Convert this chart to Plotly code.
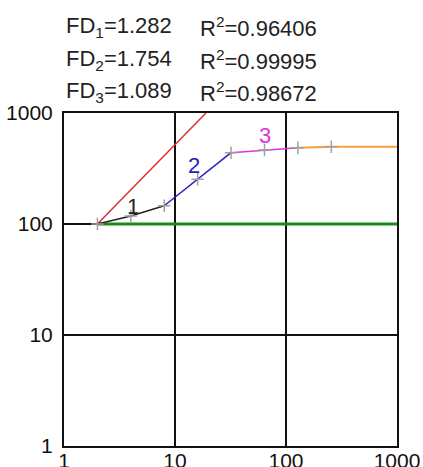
import math
import plotly.graph_objects as go

# Box sizes and counts for the three scaling regimes
box_size = [2, 4, 8, 16, 32, 64, 128, 256]
count = [100, 118, 146, 253, 439, 464, 487, 497]

# Saturated tail and reference lines
tail_x = [128, 256, 1000]
tail_y = [487, 497, 497]
ref_flat_x = [2, 1000]
ref_flat_y = [100, 100]
ref_slope_x = [2, 19]
ref_slope_y = [100, 1000]

fd_labels = ["FD<sub>1</sub>=1.282", "FD<sub>2</sub>=1.754", "FD<sub>3</sub>=1.089"]
r2_labels = ["R<sup>2</sup>=0.96406", "R<sup>2</sup>=0.99995", "R<sup>2</sup>=0.98672"]
tick_vals = [1, 10, 100, 1000]
tick_text = ["1", "10", "100", "1000"]

# Segment numbers and where they sit
seg_names = ["1", "2", "3"]
seg_label_x = [4.2, 14.8, 65]
seg_label_y = [145, 334, 632]
seg_colors = ["#222222", "#2222bb", "#dd33dd"]

FONT = "Arial, Liberation Sans, sans-serif"

fig = go.Figure()
fig.add_trace(go.Scatter(x=ref_flat_x, y=ref_flat_y, mode="lines",
                         line=dict(color="#1a8a1a", width=3)))
fig.add_trace(go.Scatter(x=ref_slope_x, y=ref_slope_y, mode="lines",
                         line=dict(color="#e03030", width=1.5)))
segments = [(0, 3), (2, 5), (4, 7)]
for (a, b), c in zip(segments, seg_colors):
    fig.add_trace(go.Scatter(x=box_size[a:b], y=count[a:b], mode="lines",
                             line=dict(color=c, width=1.5)))
fig.add_trace(go.Scatter(x=tail_x, y=tail_y, mode="lines",
                         line=dict(color="#f5a040", width=2)))
fig.add_trace(go.Scatter(x=box_size, y=count, mode="markers",
                         marker=dict(symbol="cross-thin", size=9,
                                     line=dict(color="#a0a0a0", width=1.5))))

for txt, x, y, c in zip(seg_names, seg_label_x, seg_label_y, seg_colors):
    fig.add_annotation(x=math.log10(x), y=math.log10(y), xref="x", yref="y",
                       text=txt, showarrow=False,
                       font=dict(size=22, color=c, family=FONT),
                       xanchor="center", yanchor="middle")

# Fit statistics above the plot
for i, (fd, r2) in enumerate(zip(fd_labels, r2_labels)):
    yy = 1.258 - i * 0.098
    fig.add_annotation(x=0, y=yy, xref="paper", yref="paper", text=fd,
                       showarrow=False, xanchor="left", yanchor="middle",
                       font=dict(size=22, color="#222222", family=FONT))
    fig.add_annotation(x=0.402, y=yy, xref="paper", yref="paper", text=r2,
                       showarrow=False, xanchor="left", yanchor="middle",
                       font=dict(size=22, color="#222222", family=FONT))

axis_common = dict(type="log", range=[0, 3], tickvals=tick_vals, ticktext=tick_text,
                   showgrid=True, gridcolor="#111111", gridwidth=1.5,
                   showline=True, linecolor="#111111", linewidth=2, mirror=True,
                   ticks="", zeroline=False, automargin=False,
                   tickfont=dict(size=21, color="#111111", family=FONT))
fig.update_xaxes(**axis_common, ticklabelstandoff=-5)
fig.update_yaxes(**axis_common, ticklabelstandoff=5)

fig.update_layout(width=423, height=467, showlegend=False,
                  margin=dict(l=64, r=26, t=113, b=21),
                  paper_bgcolor="white", plot_bgcolor="white")

fig.write_html("out.html")
